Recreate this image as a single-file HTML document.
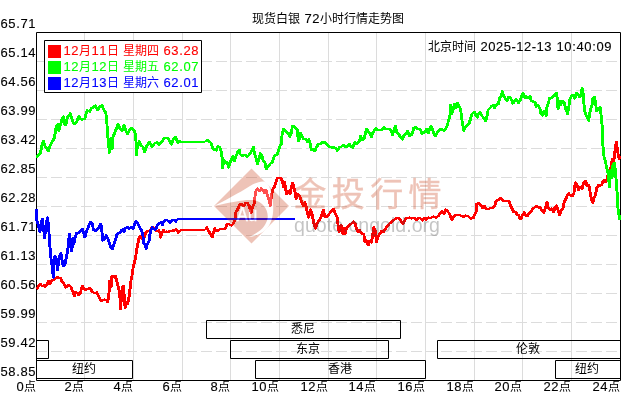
<!DOCTYPE html>
<html lang="zh"><head><meta charset="utf-8"><title>现货白银 72小时行情走势图</title>
<style>
html,body{margin:0;padding:0;background:#fff;overflow:hidden}
svg{display:block;will-change:transform}
text{font-family:"Liberation Sans","Noto Sans CJK SC",sans-serif;font-size:13px;stroke-width:.12px}
text.c{font-size:12px;stroke:none}
</style></head><body>
<svg width="630" height="400" viewBox="0 0 630 400">
<rect width="630" height="400" fill="#fff"/>
<path d="M84 33v347h1v-347zM133 33v347h1v-347zM182 33v347h1v-347zM230 33v347h1v-347zM279 33v347h1v-347zM328 33v347h1v-347zM376 33v347h1v-347zM425 33v347h1v-347zM474 33v347h1v-347zM522 33v347h1v-347zM571 33v347h1v-347z" fill="#dcdcdc"/>
<path d="M36 61h11v1h-11zM51 61h11v1h-11zM66 61h11v1h-11zM81 61h11v1h-11zM96 61h11v1h-11zM111 61h11v1h-11zM126 61h11v1h-11zM141 61h11v1h-11zM156 61h11v1h-11zM171 61h11v1h-11zM186 61h11v1h-11zM201 61h11v1h-11zM216 61h11v1h-11zM231 61h11v1h-11zM246 61h11v1h-11zM261 61h11v1h-11zM276 61h11v1h-11zM291 61h11v1h-11zM306 61h11v1h-11zM321 61h11v1h-11zM336 61h11v1h-11zM351 61h11v1h-11zM366 61h11v1h-11zM381 61h11v1h-11zM396 61h11v1h-11zM411 61h11v1h-11zM426 61h11v1h-11zM441 61h11v1h-11zM456 61h11v1h-11zM471 61h11v1h-11zM486 61h11v1h-11zM501 61h11v1h-11zM516 61h11v1h-11zM531 61h11v1h-11zM546 61h11v1h-11zM561 61h11v1h-11zM576 61h11v1h-11zM591 61h11v1h-11zM606 61h11v1h-11zM36 90h11v1h-11zM51 90h11v1h-11zM66 90h11v1h-11zM81 90h11v1h-11zM96 90h11v1h-11zM111 90h11v1h-11zM126 90h11v1h-11zM141 90h11v1h-11zM156 90h11v1h-11zM171 90h11v1h-11zM186 90h11v1h-11zM201 90h11v1h-11zM216 90h11v1h-11zM231 90h11v1h-11zM246 90h11v1h-11zM261 90h11v1h-11zM276 90h11v1h-11zM291 90h11v1h-11zM306 90h11v1h-11zM321 90h11v1h-11zM336 90h11v1h-11zM351 90h11v1h-11zM366 90h11v1h-11zM381 90h11v1h-11zM396 90h11v1h-11zM411 90h11v1h-11zM426 90h11v1h-11zM441 90h11v1h-11zM456 90h11v1h-11zM471 90h11v1h-11zM486 90h11v1h-11zM501 90h11v1h-11zM516 90h11v1h-11zM531 90h11v1h-11zM546 90h11v1h-11zM561 90h11v1h-11zM576 90h11v1h-11zM591 90h11v1h-11zM606 90h11v1h-11zM36 119h11v1h-11zM51 119h11v1h-11zM66 119h11v1h-11zM81 119h11v1h-11zM96 119h11v1h-11zM111 119h11v1h-11zM126 119h11v1h-11zM141 119h11v1h-11zM156 119h11v1h-11zM171 119h11v1h-11zM186 119h11v1h-11zM201 119h11v1h-11zM216 119h11v1h-11zM231 119h11v1h-11zM246 119h11v1h-11zM261 119h11v1h-11zM276 119h11v1h-11zM291 119h11v1h-11zM306 119h11v1h-11zM321 119h11v1h-11zM336 119h11v1h-11zM351 119h11v1h-11zM366 119h11v1h-11zM381 119h11v1h-11zM396 119h11v1h-11zM411 119h11v1h-11zM426 119h11v1h-11zM441 119h11v1h-11zM456 119h11v1h-11zM471 119h11v1h-11zM486 119h11v1h-11zM501 119h11v1h-11zM516 119h11v1h-11zM531 119h11v1h-11zM546 119h11v1h-11zM561 119h11v1h-11zM576 119h11v1h-11zM591 119h11v1h-11zM606 119h11v1h-11zM36 148h11v1h-11zM51 148h11v1h-11zM66 148h11v1h-11zM81 148h11v1h-11zM96 148h11v1h-11zM111 148h11v1h-11zM126 148h11v1h-11zM141 148h11v1h-11zM156 148h11v1h-11zM171 148h11v1h-11zM186 148h11v1h-11zM201 148h11v1h-11zM216 148h11v1h-11zM231 148h11v1h-11zM246 148h11v1h-11zM261 148h11v1h-11zM276 148h11v1h-11zM291 148h11v1h-11zM306 148h11v1h-11zM321 148h11v1h-11zM336 148h11v1h-11zM351 148h11v1h-11zM366 148h11v1h-11zM381 148h11v1h-11zM396 148h11v1h-11zM411 148h11v1h-11zM426 148h11v1h-11zM441 148h11v1h-11zM456 148h11v1h-11zM471 148h11v1h-11zM486 148h11v1h-11zM501 148h11v1h-11zM516 148h11v1h-11zM531 148h11v1h-11zM546 148h11v1h-11zM561 148h11v1h-11zM576 148h11v1h-11zM591 148h11v1h-11zM606 148h11v1h-11zM36 177h11v1h-11zM51 177h11v1h-11zM66 177h11v1h-11zM81 177h11v1h-11zM96 177h11v1h-11zM111 177h11v1h-11zM126 177h11v1h-11zM141 177h11v1h-11zM156 177h11v1h-11zM171 177h11v1h-11zM186 177h11v1h-11zM201 177h11v1h-11zM216 177h11v1h-11zM231 177h11v1h-11zM246 177h11v1h-11zM261 177h11v1h-11zM276 177h11v1h-11zM291 177h11v1h-11zM306 177h11v1h-11zM321 177h11v1h-11zM336 177h11v1h-11zM351 177h11v1h-11zM366 177h11v1h-11zM381 177h11v1h-11zM396 177h11v1h-11zM411 177h11v1h-11zM426 177h11v1h-11zM441 177h11v1h-11zM456 177h11v1h-11zM471 177h11v1h-11zM486 177h11v1h-11zM501 177h11v1h-11zM516 177h11v1h-11zM531 177h11v1h-11zM546 177h11v1h-11zM561 177h11v1h-11zM576 177h11v1h-11zM591 177h11v1h-11zM606 177h11v1h-11zM36 206h11v1h-11zM51 206h11v1h-11zM66 206h11v1h-11zM81 206h11v1h-11zM96 206h11v1h-11zM111 206h11v1h-11zM126 206h11v1h-11zM141 206h11v1h-11zM156 206h11v1h-11zM171 206h11v1h-11zM186 206h11v1h-11zM201 206h11v1h-11zM216 206h11v1h-11zM231 206h11v1h-11zM246 206h11v1h-11zM261 206h11v1h-11zM276 206h11v1h-11zM291 206h11v1h-11zM306 206h11v1h-11zM321 206h11v1h-11zM336 206h11v1h-11zM351 206h11v1h-11zM366 206h11v1h-11zM381 206h11v1h-11zM396 206h11v1h-11zM411 206h11v1h-11zM426 206h11v1h-11zM441 206h11v1h-11zM456 206h11v1h-11zM471 206h11v1h-11zM486 206h11v1h-11zM501 206h11v1h-11zM516 206h11v1h-11zM531 206h11v1h-11zM546 206h11v1h-11zM561 206h11v1h-11zM576 206h11v1h-11zM591 206h11v1h-11zM606 206h11v1h-11zM36 235h11v1h-11zM51 235h11v1h-11zM66 235h11v1h-11zM81 235h11v1h-11zM96 235h11v1h-11zM111 235h11v1h-11zM126 235h11v1h-11zM141 235h11v1h-11zM156 235h11v1h-11zM171 235h11v1h-11zM186 235h11v1h-11zM201 235h11v1h-11zM216 235h11v1h-11zM231 235h11v1h-11zM246 235h11v1h-11zM261 235h11v1h-11zM276 235h11v1h-11zM291 235h11v1h-11zM306 235h11v1h-11zM321 235h11v1h-11zM336 235h11v1h-11zM351 235h11v1h-11zM366 235h11v1h-11zM381 235h11v1h-11zM396 235h11v1h-11zM411 235h11v1h-11zM426 235h11v1h-11zM441 235h11v1h-11zM456 235h11v1h-11zM471 235h11v1h-11zM486 235h11v1h-11zM501 235h11v1h-11zM516 235h11v1h-11zM531 235h11v1h-11zM546 235h11v1h-11zM561 235h11v1h-11zM576 235h11v1h-11zM591 235h11v1h-11zM606 235h11v1h-11zM36 264h11v1h-11zM51 264h11v1h-11zM66 264h11v1h-11zM81 264h11v1h-11zM96 264h11v1h-11zM111 264h11v1h-11zM126 264h11v1h-11zM141 264h11v1h-11zM156 264h11v1h-11zM171 264h11v1h-11zM186 264h11v1h-11zM201 264h11v1h-11zM216 264h11v1h-11zM231 264h11v1h-11zM246 264h11v1h-11zM261 264h11v1h-11zM276 264h11v1h-11zM291 264h11v1h-11zM306 264h11v1h-11zM321 264h11v1h-11zM336 264h11v1h-11zM351 264h11v1h-11zM366 264h11v1h-11zM381 264h11v1h-11zM396 264h11v1h-11zM411 264h11v1h-11zM426 264h11v1h-11zM441 264h11v1h-11zM456 264h11v1h-11zM471 264h11v1h-11zM486 264h11v1h-11zM501 264h11v1h-11zM516 264h11v1h-11zM531 264h11v1h-11zM546 264h11v1h-11zM561 264h11v1h-11zM576 264h11v1h-11zM591 264h11v1h-11zM606 264h11v1h-11zM36 293h11v1h-11zM51 293h11v1h-11zM66 293h11v1h-11zM81 293h11v1h-11zM96 293h11v1h-11zM111 293h11v1h-11zM126 293h11v1h-11zM141 293h11v1h-11zM156 293h11v1h-11zM171 293h11v1h-11zM186 293h11v1h-11zM201 293h11v1h-11zM216 293h11v1h-11zM231 293h11v1h-11zM246 293h11v1h-11zM261 293h11v1h-11zM276 293h11v1h-11zM291 293h11v1h-11zM306 293h11v1h-11zM321 293h11v1h-11zM336 293h11v1h-11zM351 293h11v1h-11zM366 293h11v1h-11zM381 293h11v1h-11zM396 293h11v1h-11zM411 293h11v1h-11zM426 293h11v1h-11zM441 293h11v1h-11zM456 293h11v1h-11zM471 293h11v1h-11zM486 293h11v1h-11zM501 293h11v1h-11zM516 293h11v1h-11zM531 293h11v1h-11zM546 293h11v1h-11zM561 293h11v1h-11zM576 293h11v1h-11zM591 293h11v1h-11zM606 293h11v1h-11zM36 322h11v1h-11zM51 322h11v1h-11zM66 322h11v1h-11zM81 322h11v1h-11zM96 322h11v1h-11zM111 322h11v1h-11zM126 322h11v1h-11zM141 322h11v1h-11zM156 322h11v1h-11zM171 322h11v1h-11zM186 322h11v1h-11zM201 322h11v1h-11zM216 322h11v1h-11zM231 322h11v1h-11zM246 322h11v1h-11zM261 322h11v1h-11zM276 322h11v1h-11zM291 322h11v1h-11zM306 322h11v1h-11zM321 322h11v1h-11zM336 322h11v1h-11zM351 322h11v1h-11zM366 322h11v1h-11zM381 322h11v1h-11zM396 322h11v1h-11zM411 322h11v1h-11zM426 322h11v1h-11zM441 322h11v1h-11zM456 322h11v1h-11zM471 322h11v1h-11zM486 322h11v1h-11zM501 322h11v1h-11zM516 322h11v1h-11zM531 322h11v1h-11zM546 322h11v1h-11zM561 322h11v1h-11zM576 322h11v1h-11zM591 322h11v1h-11zM606 322h11v1h-11zM36 351h11v1h-11zM51 351h11v1h-11zM66 351h11v1h-11zM81 351h11v1h-11zM96 351h11v1h-11zM111 351h11v1h-11zM126 351h11v1h-11zM141 351h11v1h-11zM156 351h11v1h-11zM171 351h11v1h-11zM186 351h11v1h-11zM201 351h11v1h-11zM216 351h11v1h-11zM231 351h11v1h-11zM246 351h11v1h-11zM261 351h11v1h-11zM276 351h11v1h-11zM291 351h11v1h-11zM306 351h11v1h-11zM321 351h11v1h-11zM336 351h11v1h-11zM351 351h11v1h-11zM366 351h11v1h-11zM381 351h11v1h-11zM396 351h11v1h-11zM411 351h11v1h-11zM426 351h11v1h-11zM441 351h11v1h-11zM456 351h11v1h-11zM471 351h11v1h-11zM486 351h11v1h-11zM501 351h11v1h-11zM516 351h11v1h-11zM531 351h11v1h-11zM546 351h11v1h-11zM561 351h11v1h-11zM576 351h11v1h-11zM591 351h11v1h-11zM606 351h11v1h-11z" fill="#dcdcdc"/>
<path d="M36.5 32.5h584v348h-584z" fill="none" stroke="#000" stroke-width="1"/>
<path d="M206.5 320.5H400.5V338.5H206.5zM230.5 340.5H388.5V358.5H230.5zM255.5 360.5H425.5V378.5H255.5zM437.5 340.5H620.5V358.5H437.5zM36.5 340.5H48.5V358.5H36.5zM36.5 360.5H132.5V378.5H36.5zM555.5 360.5H620.5V378.5H555.5z" fill="none" stroke="#000" stroke-width="1"/>
<g class="t" fill="#000" aria-label="悉尼"><title>悉尼</title><text class="c" x="291" y="333">悉尼</text></g>
<g class="t" fill="#000" aria-label="东京"><title>东京</title><text class="c" x="296" y="353">东京</text></g>
<g class="t" fill="#000" aria-label="香港"><title>香港</title><text class="c" x="328" y="373">香港</text></g>
<g class="t" fill="#000" aria-label="伦敦"><title>伦敦</title><text class="c" x="516" y="353">伦敦</text></g>
<g class="t" fill="#000" aria-label="纽约"><title>纽约</title><text class="c" x="72" y="373">纽约</text></g>
<g class="t" fill="#000" aria-label="纽约"><title>纽约</title><text class="c" x="575" y="373">纽约</text></g>
<g class="t" fill="#000" stroke="#000" aria-label="65.71"><title>65.71</title><text x="0.4" y="28" textLength="35.2" lengthAdjust="spacing">65.71</text></g>
<g class="t" fill="#000" stroke="#000" aria-label="65.14"><title>65.14</title><text x="0.4" y="57" textLength="35.2" lengthAdjust="spacing">65.14</text></g>
<g class="t" fill="#000" stroke="#000" aria-label="64.56"><title>64.56</title><text x="0.4" y="86" textLength="35.2" lengthAdjust="spacing">64.56</text></g>
<g class="t" fill="#000" stroke="#000" aria-label="63.99"><title>63.99</title><text x="0.4" y="115" textLength="35.2" lengthAdjust="spacing">63.99</text></g>
<g class="t" fill="#000" stroke="#000" aria-label="63.42"><title>63.42</title><text x="0.4" y="144" textLength="35.2" lengthAdjust="spacing">63.42</text></g>
<g class="t" fill="#000" stroke="#000" aria-label="62.85"><title>62.85</title><text x="0.4" y="173" textLength="35.2" lengthAdjust="spacing">62.85</text></g>
<g class="t" fill="#000" stroke="#000" aria-label="62.28"><title>62.28</title><text x="0.4" y="202" textLength="35.2" lengthAdjust="spacing">62.28</text></g>
<g class="t" fill="#000" stroke="#000" aria-label="61.71"><title>61.71</title><text x="0.4" y="231" textLength="35.2" lengthAdjust="spacing">61.71</text></g>
<g class="t" fill="#000" stroke="#000" aria-label="61.13"><title>61.13</title><text x="0.4" y="260" textLength="35.2" lengthAdjust="spacing">61.13</text></g>
<g class="t" fill="#000" stroke="#000" aria-label="60.56"><title>60.56</title><text x="0.4" y="289" textLength="35.2" lengthAdjust="spacing">60.56</text></g>
<g class="t" fill="#000" stroke="#000" aria-label="59.99"><title>59.99</title><text x="0.4" y="318" textLength="35.2" lengthAdjust="spacing">59.99</text></g>
<g class="t" fill="#000" stroke="#000" aria-label="59.42"><title>59.42</title><text x="0.4" y="347" textLength="35.2" lengthAdjust="spacing">59.42</text></g>
<g class="t" fill="#000" stroke="#000" aria-label="58.85"><title>58.85</title><text x="0.4" y="376" textLength="35.2" lengthAdjust="spacing">58.85</text></g>
<g class="t" fill="#000" stroke="#000" aria-label="0点"><title>0点</title><text x="16.4" y="391" textLength="7.2" lengthAdjust="spacing">0</text><text class="c" x="24" y="391">点</text></g>
<g class="t" fill="#000" stroke="#000" aria-label="2点"><title>2点</title><text x="64.4" y="391" textLength="7.2" lengthAdjust="spacing">2</text><text class="c" x="72" y="391">点</text></g>
<g class="t" fill="#000" stroke="#000" aria-label="4点"><title>4点</title><text x="113.4" y="391" textLength="7.2" lengthAdjust="spacing">4</text><text class="c" x="121" y="391">点</text></g>
<g class="t" fill="#000" stroke="#000" aria-label="6点"><title>6点</title><text x="162.4" y="391" textLength="7.2" lengthAdjust="spacing">6</text><text class="c" x="170" y="391">点</text></g>
<g class="t" fill="#000" stroke="#000" aria-label="8点"><title>8点</title><text x="210.4" y="391" textLength="7.2" lengthAdjust="spacing">8</text><text class="c" x="218" y="391">点</text></g>
<g class="t" fill="#000" stroke="#000" aria-label="10点"><title>10点</title><text x="251.4" y="391" textLength="15.2" lengthAdjust="spacing">10</text><text class="c" x="267" y="391">点</text></g>
<g class="t" fill="#000" stroke="#000" aria-label="12点"><title>12点</title><text x="300.4" y="391" textLength="15.2" lengthAdjust="spacing">12</text><text class="c" x="316" y="391">点</text></g>
<g class="t" fill="#000" stroke="#000" aria-label="14点"><title>14点</title><text x="348.4" y="391" textLength="15.2" lengthAdjust="spacing">14</text><text class="c" x="364" y="391">点</text></g>
<g class="t" fill="#000" stroke="#000" aria-label="16点"><title>16点</title><text x="397.4" y="391" textLength="15.2" lengthAdjust="spacing">16</text><text class="c" x="413" y="391">点</text></g>
<g class="t" fill="#000" stroke="#000" aria-label="18点"><title>18点</title><text x="446.4" y="391" textLength="15.2" lengthAdjust="spacing">18</text><text class="c" x="462" y="391">点</text></g>
<g class="t" fill="#000" stroke="#000" aria-label="20点"><title>20点</title><text x="494.4" y="391" textLength="15.2" lengthAdjust="spacing">20</text><text class="c" x="510" y="391">点</text></g>
<g class="t" fill="#000" stroke="#000" aria-label="22点"><title>22点</title><text x="543.4" y="391" textLength="15.2" lengthAdjust="spacing">22</text><text class="c" x="559" y="391">点</text></g>
<g class="t" fill="#000" stroke="#000" aria-label="24点"><title>24点</title><text x="592.4" y="391" textLength="15.2" lengthAdjust="spacing">24</text><text class="c" x="608" y="391">点</text></g>
<g class="t" fill="#000" stroke="#000" aria-label="现货白银 72小时行情走势图"><title>现货白银 72小时行情走势图</title><text class="c" x="252" y="23">现货白银</text><text x="304.4" y="23" textLength="15.2" lengthAdjust="spacing">72</text><text class="c" x="320" y="23">小时行情走势图</text></g>
<g class="t" fill="#000" stroke="#000" aria-label="北京时间 2025-12-13 10:40:09"><title>北京时间 2025-12-13 10:40:09</title><text class="c" x="428" y="51">北京时间</text><text x="480.4" y="51" textLength="71.2" lengthAdjust="spacing">2025-12-13</text><text x="556.4" y="51" textLength="55.2" lengthAdjust="spacing">10:40:09</text></g>
<g fill="none" stroke="#f00" stroke-linejoin="round" stroke-linecap="butt" shape-rendering="crispEdges"><polyline id="pf001" stroke-width="2.2" points="36.6,289.3 38.3,285.5 40.1,284.2 41.7,286.1 43.4,285.5 44.9,286.8 46.8,284.2 48.1,281 50,283.6 51.5,280.4 53.1,279.8 55,278.5 57,277 58.6,277.9 60.1,277.9 61.4,281 62.9,282.95 64.2,284.9 65.5,287.4 67.1,285.5 69,285.5 70.5,286.8 71.8,290.6 73.1,292.5 74.1,296.3 75.4,291.8 76.9,293.1 78.5,295 80.2,292.5 81.1,288.7 82.35,286.1 83.6,288.7 85.5,289.9 87.4,288.7 90,288.4 91.6,291.2 93.1,292.5 94.7,293.1 96.3,292.5 98.2,295.65 99.5,298.8 100.8,300.7 102.7,300.1 104.3,299.5 105.8,300.1 107.4,302 108.75,292 109.5,280.75 110.75,287 111.6,275.75 113.25,277 114.75,275.75 116,279.5 117.25,284.5 118.5,288.9 119.5,294.5 120,308.9 121,299.5 122,287 122.9,285.75 123.75,294.5 124.75,308.25 125.75,302 127.25,303.9 128.5,298.25 129.5,290.75 130.4,282 131.6,275.75 132.5,269.5 133.7,263.5 135.2,258 136.25,249.75 137.5,244 138.6,238 140,236.5 141.5,238 142.6,239.25 143.75,237.75 145.25,232.5 147.5,231 149.75,231 151.25,228 153.2,227.5 155,229.5 156.5,231 158.5,230.5 159.8,233.25 160.2,237.5 161.5,233 163,230 164.5,232 166,231.5 168,232 169.5,230.8 171,231.2 172.5,230.5 174,230.5 175.5,229.5 176.5,230.5 178,232.5 179.5,230"/><use href="#pf001" x="0.7"/><polyline stroke-width="2" points="179.5,230 205,230"/><polyline id="pf002" stroke-width="2.2" points="205,230 206.5,227.5 208,230.5 210,234 212,237.3 213,232.5 214.4,228.5 216,230.6 217.9,230.4 220.4,228.7 222.3,229.4 225.5,228.1 226.75,223.65 228.65,224.3 231.2,225.55 233.1,223.65 234.6,219.8 235.6,212.2 237.5,209 239.2,204.6 241.35,204 243.25,205.9 245.2,203.3 247.1,202.9 248.8,205.6 250.7,212.6 252,208.2 253.9,203.1 255.2,191.7 257.1,188.5 259,191 260.9,188.5 262.8,190.4 264,192.9 265.6,189.8 267.2,195.5 268.9,201.2 270,205.6 271,196.1 272.3,189.8 274.2,186.6 275.5,182.8 276.75,178.3 278.65,177.7 280.6,178.3 282.1,181.5 283.1,187.2 284.4,182.1 285.4,190.4 286.3,194.2 288.2,191 289.7,193.6 291,187.9 292.2,182.8 293.5,187.2 294.8,192.3 295.8,198.65 297.1,194.2 299,195.5 300.6,199.9 302,204 303.5,206 304.5,202 306,207 307,213 308.2,217.5 309.5,213 310.2,209.5 311.5,213 312.5,218 313.5,224 315.2,228.5 316.5,224 318,221.5 320,218.5 321.5,215 323,210 324.5,216.5 326,217 328,215 329.8,212.7 331.75,210.8 333.3,208.9 334.9,213.3 336.6,216.5 337.5,223.5 338.7,231.75 339.6,227.3 340.9,225.4 342.5,233.65 343.8,227.9 345.1,233.65 346.3,227.3 348.25,226 350.2,224.1 352.1,222.9 353.3,221.6 354.9,224.1 356.1,228.6 357.4,231.75 358.7,229.8 360.3,231.75 362,233.65 363.5,234.3 364.5,241.9 366,240.6 367.9,245.1 369.2,241.3 371.1,242.5 372.4,234.9 373.4,227.3 374.9,231.1 376.2,242.3 377.5,236.9 379.4,233.7 381.35,231.2 383.25,231.8 385.2,228.65 387.1,226.1 389,223.6 390.9,222.3 392.8,220.4 394.7,219.1 396.6,218.2 399.1,218.5 401,221.7 402.7,223.6 404.5,220.4 406.1,217.9 408.65,217.6 411.2,218.5 413.7,217.9 416.3,219.8 418.2,217.9 420.1,218.5 422,220.4 423.9,217.9 425.8,219.8 427.7,217.6 430.2,217.9 432.8,216.6 435.3,217.6 437.9,215.95 439.8,213.4 441.7,211.5 443.6,214 445.5,209.6 447.4,211.5 449.3,214 451.5,219.8 453.2,216.75 455.7,214.8 458.9,214.8 461.4,216.1 463.3,216.75 465.2,215.5 467.8,216.1 470.3,218.65 472.9,218 474.4,214.8 475.65,212.3 476.4,204 478.6,203.2 480.5,205.3 482.4,207.9 484,205.95 485.8,209.1 488.1,209.1 490.4,207.9 492.5,207.9 494.4,205.95 495.7,200.9 497.6,200.2 499.8,198.1 502.1,199.6 503.3,201.25 506.5,201.25 509,201.5 510.3,205.95 511.6,208.5 513.2,211.7 515.4,212.3 517,214.8 518.6,215.5 519.6,218.65 520.5,218.8 521.9,215.6 523.8,212.5 525.3,215.6 527,216.3 528.9,213.1 530.8,211.2 532.7,208.65 534.2,207.4 535.9,206.1 537.8,207.4 539.7,207.4 541.6,210.55 543.5,212.5 545.1,208 546.7,202.3 547.9,207.4 549.8,209.9 551.5,208.65 553.3,211.8 554.5,208 556.2,205.5 557.5,209.9 559.4,215.4 560.6,210.55 562.5,208.65 563.8,202.3 565.7,198.5 567,195.3 568.25,193.4 569.8,195.3 572.1,195.95 573.6,192.8 574.9,182.6 576.5,184.5 578.2,190.2 579.7,187.1 581.6,189 583.1,183.25 585.4,180.7 586.7,186.4 588.6,185.2 589.8,192.1 591.1,199.8 592.4,202.9 593.65,197.9 595.2,195.3 596.2,188.3 598.1,185.2 600,185.5 601.5,184.4 602.5,181.9 604,179.75 605.25,181.9 606.9,180.6 607.75,173.75 609.4,171.9 611,165 611.9,158.75 613.5,160.6 614.75,150 615.9,141.9 616.9,148.1 617.75,154.4 618.75,158.75 620,156.25"/><use href="#pf002" x="0.7"/></g>
<g fill="none" stroke="#0f0" stroke-linejoin="round" stroke-linecap="butt" shape-rendering="crispEdges"><polyline id="p0f01" stroke-width="2.2" points="36,157.8 38.5,154.5 40,153.3 41.5,146 43,141 45,146.5 48,151 49.5,146 51.5,142.5 54,138 55,132 56,126 57.5,124.5 58.5,131 60,125 61.5,120 63.2,116.5 64.5,125 65.5,124.5 67,117 68.5,116 70,113.5 71,117 72.5,122 74,124 76,122.5 77.5,119 78.5,116 80,119 82,119.5 84.5,118.5 85.5,114 87,110.5 89.5,111.5 91,108.5 93.5,107 95,105.5 97.25,110 99.5,106.25 101.75,105.5 103.25,109.25 105.5,113 106.4,120.5 107.3,135.5 108.2,141.5 108.95,152.75 109.7,141.5 110.75,137.75 111.8,149 112.7,137 114.2,133.25 116,128.75 117.8,124.25 119.75,128.75 121.7,131 123.8,125 125.75,131.75 127.25,134 129.2,130.25 131,128 133.25,129.5 134.75,133.25 135.8,143 135.95,155 137,146 138.8,141.5 140.75,146 142.7,146.75 144.2,152 146,146.75 147.8,143.75 149.3,142.25 151.7,146.75 153.8,143.75 156.5,142.25 158.75,144.5 161,142.25 164,138.2 167.75,138.2 169.7,141.5 171.2,144.5 171.9,142.1 173.55,138.3 175.1,137.1 176.35,140.2 177.9,142.8 179.1,141.25 180.2,141.8"/><use href="#p0f01" x="0.7"/><polyline stroke-width="2" points="180.2,141.8 204.9,141.8"/><polyline id="p0f02" stroke-width="2.2" points="204.9,141.8 206.8,140 208.7,141.25 210.6,142.8 211.9,147.2 213.8,149.8 215.7,150.4 217.6,146 219.3,147.2 220.8,151 221.8,158 222.3,168.2 223.3,159.9 224.9,163.1 226.5,161.8 228.4,167.5 229.4,163.1 230.95,159.9 232.9,156.1 234.1,161.2 235.4,156.75 237.3,152.3 238.95,149.8 239.8,154.2 241.75,156.1 243.4,154.8 245,154.9 246.9,156.8 248.8,154.9 250.7,151.75 253.25,147.3 254.1,153.65 255.8,158.1 257.1,163.8 258.3,160.6 260,153.3 261.25,154.9 262.8,160.6 264.3,161.9 265.95,168.9 267.85,166.3 269.8,163.8 271.7,162.5 273.2,158.1 274.8,154.9 276.75,154.9 278.3,150.5 279.5,146 280.8,144.1 281.8,134 283.1,128.9 284.6,130.2 286.3,132.7 287.9,132.7 289.4,136.5 291,133.3 292,125.7 293.9,126.3 295.5,128.25 296.8,129.5 298.1,140.95 299.35,137.8 300.2,132.7 301.9,136.5 303.4,139 305.3,138.8 307.2,142.2 308.5,139 309.8,143.5 311,149.8 312.9,149.2 314.6,151.1 316.1,147.3 318,144.1 320,144.3 321.9,142.4 324.4,142.4 326.35,144.3 328.9,146.8 331.4,147.5 333.3,147.2 335.2,148.1 337.1,150.6 338.8,147.5 340.95,146.8 342.9,144.9 344.8,146.8 346.7,146.6 348.95,144 350.5,146.2 352.4,147.5 354.3,142.4 356.2,144.3 358.1,142.4 359.6,139.8 360.4,136 361.9,139.8 363.8,138.6 365.1,133.5 366.35,129 368,131.6 369.8,133.5 371,137.3 372.3,132.9 374,130.3 375.2,128.4 377.1,130.3 379,129.7 381.6,130.3 383.5,127.1 385.4,129.3 387.9,129 390.5,129.7 392.1,134.8 393.65,130.3 394.9,125.9 396.3,131.8 398.2,133.7 400.1,137.5 402,139.4 403.9,135 405.8,133.7 407.3,131.2 409,136.3 410.9,135 412.5,131.8 413.4,128 415.3,126.75 417.2,129.3 419.8,129.3 421.7,133.7 423.6,132.5 426.1,129.3 428,133.1 429.3,129.3 430.9,126.1 432.5,130.6 433.7,133.7 435,136.3 436.9,132.5 438.8,129.9 440.7,129 443.9,130.6 445.8,128 447.1,124.8 448.3,119.8 449.6,115.3 450.2,105.2 451.5,114 452.8,109 454.4,103.9 455.95,107.7 457.2,103.25 458.5,105.8 460,108.3 461,114.7 462,123.6 463.6,130.6 464.8,127.4 466.75,125.5 468.65,123.6 469.9,119.8 471.2,114.7 471.9,113.6 474.1,112.3 475.7,115.5 477,117.4 478.25,113.6 479.9,112.3 481.4,115.5 483.3,118 485.2,121.2 486.5,116.75 487.8,109.8 489.7,107.9 491.6,105.95 492.9,104.7 494.1,107.9 496,104.7 497.9,104 499.2,98.3 500.7,95.8 502,91.35 503.3,96.4 504.9,98.3 506.8,100.9 508.1,97.1 510,97.7 511.3,100.2 512.5,103.4 514.2,101.5 515.5,99 517,100.9 518.25,102.8 520.2,99.6 521.4,95.8 522.7,93.25 524.35,97.7 525.9,96.4 527.8,98.3 529.7,96.4 530.95,100.9 532.85,101.5 534.8,102.8 536,106.6 537.9,105.3 539.6,108.5 540.5,113.6 542.1,115.5 543.65,111 545.9,115.5 546.5,107.9 548.2,102.2 549.4,97.8 551.35,98.4 553.25,95.9 555.8,92.7 557.1,99 557.7,109.2 559,100.95 560.2,104.8 562.1,100.95 564,102.9 565.3,108.6 567.2,113.65 568.5,106.7 569.8,98.4 571.7,95.2 573.2,94.6 574.5,98.4 576.1,93.3 577.8,94 579,97.1 580.6,95.9 581.8,88.25 582.8,94 583.35,100.95 584.1,110.5 585.6,114.9 587.2,118.1 588.4,120.6 589.2,114.3 590.5,108.6 591.7,104.8 592.6,98.4 594.3,97.1 595.2,103.5 596.4,111.1 598.1,108.6 599.9,107.3 600.6,114.3 601.5,122.5 602.1,130 602.25,143.75 603.1,150 603.75,157.5 605,161.25 606,166.25 607.25,171.25 608.1,175 609,186.9 609.8,176 610.5,170 611.2,178 611.9,166.25 612.6,176 613.3,163.5 613.9,175 614.4,163 615,172 615.5,176.9 616,182.5 616.9,195 617.5,207.5 618.5,213.75 619.4,220"/><use href="#p0f02" x="0.7"/></g>
<g fill="none" stroke="#00f" stroke-linejoin="round" stroke-linecap="butt" shape-rendering="crispEdges"><polyline id="p00f1" stroke-width="2.2" points="36,209 36.4,220.7 37.9,224.5 39.6,232.1 40.8,223.2 42,218.8 43,227 44.25,237.8 45.5,227 47,217.5 48.1,224.5 48.7,233.4 49.5,245 50.2,255 51.2,262 52,268 53,277.5 53.5,263 54.5,256 55.5,257 56.5,263 57,270 58.2,263 59.5,256 60.5,253 61.5,259 62.8,266 64.5,265 65.8,258 66.8,253 68,246 69,234 70,242.3 71.4,251 72.6,238 73.6,244 75,236.6 76.4,232.8 78.5,232.8 80.4,230.9 82,228.95 83.2,232.8 84.5,237.2 85.8,232.1 87.4,228.3 89.1,223.9 90.35,221.7 91.9,223.9 93.1,229.6 95,230.9 97,228.95 98.9,227 100.5,224 101.5,230 102.2,240.5 104,239 106,235.5 107.5,238.5 109,243 110.5,248 112,249 113.5,244 115,240 116.5,235 118,233 119.5,232.5 121,230.5 122.5,229.5 123.8,231.5 125,228.5 126.8,227 128.5,228.5 130,227.5 131.5,227 132.8,229 134,225 135.5,221.5 137,223 138.5,226 140,228.5 141.5,231 142.5,235 143.2,243 144.5,244 145.8,249 146.8,244 148.5,242 149.5,235 150.5,230.5 152,227.5 153.5,229 154.8,230 155.5,229 157,225 158.5,223.5 160,223 161,222 162,225 163.5,221 165.5,220 167,220.5 168.5,221 169.8,222.5 171,221 172.5,220 174,220.5 175.5,221.5 177,219"/><use href="#p00f1" x="0.7"/><polyline stroke-width="2" points="177,219 295,219"/></g>
<path d="M44.5 40.5h157v52h-157z" fill="#fff" stroke="#000" stroke-width="1"/>
<rect x="48" y="45" width="13" height="13" fill="#f00"/>
<g class="t" fill="#f00" stroke="#f00" aria-label="12月11日 星期四 63.28"><title>12月11日 星期四 63.28</title><text x="63.4" y="55" textLength="15.2" lengthAdjust="spacing">12</text><text class="c" x="79" y="55">月</text><text x="91.4" y="55" textLength="15.2" lengthAdjust="spacing">11</text><text class="c" x="107" y="55">日</text><text class="c" x="123" y="55">星期四</text><text x="163.4" y="55" textLength="35.2" lengthAdjust="spacing">63.28</text></g>
<rect x="48" y="61" width="13" height="13" fill="#0f0"/>
<g class="t" fill="#0f0" stroke="#0f0" aria-label="12月12日 星期五 62.07"><title>12月12日 星期五 62.07</title><text x="63.4" y="71" textLength="15.2" lengthAdjust="spacing">12</text><text class="c" x="79" y="71">月</text><text x="91.4" y="71" textLength="15.2" lengthAdjust="spacing">12</text><text class="c" x="107" y="71">日</text><text class="c" x="123" y="71">星期五</text><text x="163.4" y="71" textLength="35.2" lengthAdjust="spacing">62.07</text></g>
<rect x="48" y="77" width="13" height="13" fill="#00f"/>
<g class="t" fill="#00f" stroke="#00f" aria-label="12月13日 星期六 62.01"><title>12月13日 星期六 62.01</title><text x="63.4" y="87" textLength="15.2" lengthAdjust="spacing">12</text><text class="c" x="79" y="87">月</text><text x="91.4" y="87" textLength="15.2" lengthAdjust="spacing">13</text><text class="c" x="107" y="87">日</text><text class="c" x="123" y="87">星期六</text><text x="163.4" y="87" textLength="35.2" lengthAdjust="spacing">62.01</text></g>
<g opacity="0.3" aria-label="金投行情 quote.cngold.org">
<path d="M214 206L251.5 168.5L289 206L251.5 243.5z" fill="#c83c14"/>
<circle cx="250.3" cy="217" r="17.7" fill="#bc3210"/>
<path d="M214 206C224 201 240 192.5 250 186C255 183 260 181 264 181.5C269 182.5 272 192 273 203C274 214 272 223 266 229.5C261 234 255 236.5 249 237C258 233 265 228 267.5 219C269 210 263 201 253 200C243 199.5 232 202 214 206z" fill="#fff"/>
<text x="236.8" y="220.8" textLength="20.4" lengthAdjust="spacingAndGlyphs" fill="#fff" stroke="#fff" style="font-size:20px;stroke-width:.3px">Au</text>
<text x="293.4 331.7 370.2 408.6" y="205.6" fill="#c83c14" stroke="#c83c14" style="font-size:33px;stroke-width:.46px">金投行情</text>
<text x="294" y="232" fill="#404040" style="font-size:19.6px">quote.cngold.org</text>
</g>
</svg>
</body></html>
